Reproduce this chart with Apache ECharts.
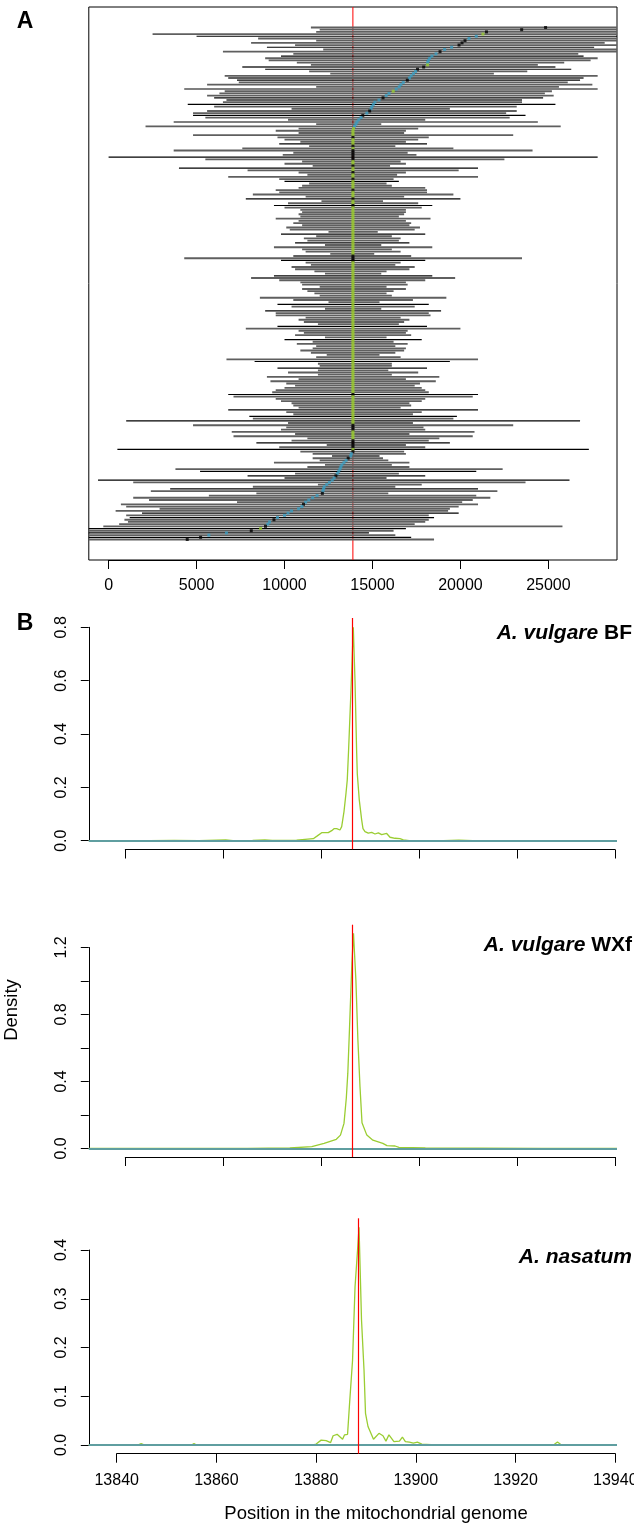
<!DOCTYPE html>
<html><head><meta charset="utf-8">
<script src="https://cdn.jsdelivr.net/npm/echarts@6/dist/echarts.min.js"></script>
<style>html,body{margin:0;padding:0;background:#fff}#c{width:634px;height:1526px}</style>
</head><body><div id="c"></div>
<script>
// ---------------- Panel A: reads (kb), one row per read, top to bottom ----------------
const readStartKb = [
 11.5,12.0,11.8,2.5,5.0,8.5,11.8,8.1,10.6,9.0,
 12.2,6.5,10.5,9.8,8.9,9.1,10.7,11.5,7.6,8.9,
 11.4,12.6,6.6,6.8,7.3,7.4,5.6,11.8,4.3,6.6,
 6.3,5.6,6.0,6.7,6.5,4.5,6.0,10.4,5.6,4.8,
 4.8,5.5,10.2,3.7,11.8,2.1,10.8,9.5,10.8,4.8,
 9.6,10.0,10.9,9.7,11.4,7.6,3.7,10.5,9.9,0.0,
 5.5,11.0,10.0,11.6,4.0,7.9,10.8,11.3,6.8,9.7,
 10.0,11.4,11.0,10.8,9.5,9.7,8.2,11.2,7.8,12.1,
 10.2,9.4,10.0,10.9,11.0,10.8,10.9,9.5,10.8,10.5,
 11.0,10.1,10.3,12.5,9.8,11.8,11.1,11.3,10.6,12.3,
 9.4,11.0,11.2,12.6,10.5,4.3,9.8,11.2,11.5,10.4,
 10.6,11.7,12.3,9.4,8.1,9.7,10.9,11.0,12.0,11.0,
 11.3,11.7,12.0,8.6,10.5,12.5,9.6,10.4,12.3,8.9,
 9.5,9.5,11.2,10.8,11.1,11.9,9.6,7.8,10.8,11.1,
 10.6,12.3,10.0,11.6,10.7,11.8,11.6,10.9,11.5,12.4,
 11.8,6.7,8.3,11.9,12.0,9.6,11.9,10.2,11.9,9.0,
 10.8,9.2,10.1,10.6,10.0,9.5,9.3,6.8,7.1,9.5,
 9.8,10.4,10.5,10.8,6.8,10.1,10.5,8.0,8.2,1.0,
 10.2,4.8,10.1,9.8,7.0,10.6,7.1,11.3,10.4,8.4,
 12.4,9.7,0.5,10.9,11.6,12.7,11.6,12.0,9.4,12.3,
 11.3,3.8,5.2,10.6,7.9,10.0,-0.6,1.4,11.9,8.2,
 3.5,2.4,8.4,5.7,1.4,2.3,7.3,0.7,1.0,2.9,
 0.4,1.9,1.0,1.2,0.9,1.1,0.6,-0.3,-1.5,-1.5,
 -1.5,-1.5,-1.5,-1.5
];
const readEndKb = [
 30.5,30.5,30.5,30.0,30.5,30.5,30.5,28.2,30.5,27.6,
 30.5,30.5,26.7,27.0,27.8,27.4,25.9,24.4,25.4,26.3,
 23.8,21.9,27.8,27.0,26.8,26.1,27.5,25.6,27.8,25.2,
 24.8,25.3,24.7,23.5,23.5,25.4,23.2,19.4,23.2,22.6,
 23.7,22.8,18.0,24.4,15.5,25.7,17.6,16.9,16.8,23.0,
 18.2,17.6,16.9,18.1,16.3,19.6,24.1,17.0,17.5,27.8,
 22.5,16.6,16.9,16.0,21.0,19.9,16.9,16.4,21.0,16.2,
 16.5,15.8,16.1,18.0,18.1,18.1,19.6,16.8,20.0,15.6,
 17.6,18.4,17.8,16.9,16.9,16.8,16.5,18.3,16.9,17.2,
 17.1,17.7,17.4,15.3,18.0,16.1,16.6,16.5,17.1,15.5,
 18.4,16.1,16.6,15.1,17.2,23.5,18.0,16.6,16.3,17.4,
 17.1,15.8,15.5,18.4,19.7,18.0,16.9,17.0,15.8,16.9,
 16.2,15.8,16.1,19.2,17.3,15.4,18.2,17.4,15.5,18.9,
 18.2,18.3,16.6,17.1,16.8,16.5,18.1,20.0,17.0,16.9,
 17.2,15.8,17.8,16.2,17.0,16.3,16.9,16.8,16.3,15.4,
 16.6,21.0,19.4,16.1,16.1,18.1,15.9,17.6,16.1,18.8,
 16.9,18.6,17.7,17.4,17.8,18.0,18.2,21.0,20.7,18.0,
 17.8,17.1,17.2,16.6,21.0,17.8,17.3,19.8,19.6,26.8,
 17.3,23.0,17.9,18.0,20.8,17.1,20.7,18.8,18.2,19.4,
 16.9,18.0,27.3,16.8,16.9,15.4,15.6,15.9,17.1,16.1,
 17.1,22.4,20.9,16.5,18.0,15.8,26.2,23.7,17.8,16.3,
 21.0,22.1,15.9,20.9,21.7,20.7,20.1,21.0,19.9,19.4,
 19.3,19.9,18.2,18.5,18.2,18.0,17.4,25.8,16.9,16.2,
 14.8,16.3,17.2,18.5
];
// position of the marked site on each read (kb)
const siteKb = [
 24.84,23.48,21.48,21.28,20.9,20.49,20.26,20.09,19.92,19.5,
 19.1,18.84,18.61,18.38,18.25,18.18,18.13,18.13,17.91,17.56,
 17.45,17.33,17.2,17.10,16.98,16.75,16.62,16.52,16.35,16.18,
 15.94,15.78,15.60,15.37,15.14,15.05,14.97,14.92,14.84,14.68,
 14.45,14.35,14.22,14.12,14.06,13.98,13.92,13.89,13.89,13.89,
 13.89,13.89,13.89,13.89,13.89,13.89,13.89,13.89,13.89,13.89,
 13.89,13.89,13.89,13.89,13.89,13.89,13.89,13.89,13.89,13.89,
 13.89,13.89,13.89,13.89,13.89,13.89,13.89,13.89,13.89,13.89,
 13.89,13.89,13.89,13.89,13.89,13.89,13.89,13.89,13.89,13.89,
 13.89,13.89,13.89,13.89,13.89,13.89,13.89,13.89,13.89,13.89,
 13.89,13.89,13.89,13.89,13.89,13.89,13.89,13.89,13.89,13.89,
 13.89,13.89,13.89,13.89,13.89,13.89,13.89,13.89,13.89,13.89,
 13.89,13.89,13.89,13.89,13.89,13.89,13.89,13.89,13.89,13.89,
 13.89,13.89,13.89,13.89,13.89,13.89,13.89,13.89,13.89,13.89,
 13.89,13.89,13.89,13.89,13.89,13.89,13.89,13.89,13.89,13.89,
 13.89,13.89,13.89,13.89,13.89,13.89,13.89,13.89,13.89,13.89,
 13.89,13.89,13.89,13.89,13.89,13.89,13.89,13.89,13.89,13.89,
 13.89,13.89,13.89,13.89,13.89,13.89,13.89,13.89,13.89,13.89,
 13.89,13.89,13.89,13.89,13.89,13.89,13.89,13.89,13.89,13.89,
 13.89,13.89,13.89,13.89,13.80,13.76,13.62,13.50,13.38,13.26,
 13.20,13.15,13.08,13.00,12.92,12.82,12.71,12.55,12.40,12.26,
 12.22,12.18,12.15,11.85,11.60,11.38,11.20,11.08,10.99,10.80,
 10.40,10.20,10.00,9.60,9.40,9.15,9.05,8.92,8.64,8.11,
 6.70,5.70,5.23,4.47
];
// g = grey read, k = black read
const lineTone =
 "ggggkggggk"+"gggkgggggk"+"ggggkgggkg"+"ggkggkgggg"+"kggkggggg"+
 "ggggkggggg"+"kggggkgggg"+"gkgggggggk"+"ggkggggggg"+"gggggkgggk"+
 "gggggggkgg"+"ggggkggggg"+"gggggggkgg"+"kggggggkgg"+"gggkgggggg"+
 "gggkggkggg"+"ggggggggkg"+"gggggkggkg"+"kggggggggg"+"kggkg"+
 "ggggggggkg"+"kgkgggkggg"+"gggggggkgk"+"ggggkgkgkg";
// k = black, c = blue, g = green site marks
const dotTone =
 "kkkgcckkkc"+"ckcccccgkk"+"cccckccccg"+"cckccccckc"+"kcccccggg"+
 "gkgggkgkkk"+"kkggkggkgg"+"kggggkgggk"+"ggkggggggg"+"gggggggggg"+
 "gggggkkkgg"+"gggggggggg"+"gggggggggg"+"gggggggggg"+"gggggggggg"+
 "gggggggggg"+"ggggggggkg"+"gggggggggg"+"ggkkkggggk"+"kkkgk"+
 "cckccccccc"+"kccccccckc"+"ccckcccccc"+"kcckgkcckk";
const panelATicks = [0, 25000, 5000];   // min, max, step
const cutSiteA = 13887;

// ---------------- Panel B: densities ----------------
const bfPos = [13832.55,13845,13850,13855,13860.5,13862,13866,13868.5,13870,13875,
 13878.4,13879.22,13880.11,13881.46,13882.16,13882.63,13883.18,13883.85,13884.2,13884.67,
 13885.08,13885.34,13885.61,13886.1,13886.57,13886.92,13887.26,13887.39,13887.79,13888.28,
 13888.55,13888.96,13889.63,13890.33,13891.0,13891.68,13892.37,13893.39,13894.07,13895.09,
 13896.11,13896.78,13898,13905,13908.1,13911,13920,13940.43];
const bfDensity = [0,0,0.001,0.0005,0.003,0.0005,0.001,0.003,0.001,0.002,
 0.0075,0.018,0.030,0.030,0.0375,0.045,0.045,0.04,0.0525,0.109,
 0.178,0.228,0.34,0.565,0.80,0.6,0.33,0.25,0.153,0.078,
 0.045,0.034,0.028,0.031,0.025,0.029,0.0225,0.027,0.0128,0.009,
 0.0075,0.003,0.0005,0,0.002,0,0,0];
const wxPos = [13832.55,13850,13855.3,13865,13873.6,13878.1,13880.6,13883.1,13883.95,13884.67,
 13885.14,13885.45,13885.81,13886.28,13886.61,13887.1,13887.51,13887.94,13888.35,13889.33,
 13890.57,13892.6,13893.45,13895.1,13895.9,13901.3,13912.4,13925,13940.43];
const wxDensity = [0,0,0.001,0.001,0.003,0.011,0.031,0.055,0.08,0.15,
 0.3,0.45,0.727,1.106,1.285,1.006,0.648,0.369,0.154,0.08,
 0.05,0.031,0.017,0.015,0.007,0.004,0.002,0,0];
const naPos = [13834.4,13844.2,13844.9,13845.6,13855.0,13855.5,13856.0,13859.0,13859.4,13859.8,
 13868.5,13868.9,13869.3,13874.3,13874.7,13875.1,13878.4,13878.8,13879.2,13880.0,
 13881.0,13882.0,13882.9,13883.4,13884.2,13884.6,13885.3,13885.7,13886.3,13886.7,
 13887.3,13887.8,13888.3,13888.6,13889.1,13889.6,13889.9,13890.4,13891.5,13892.6,
 13893.4,13894.0,13894.6,13895.6,13896.7,13897.3,13897.9,13898.7,13899.5,13900.3,
 13901.2,13904.0,13904.4,13904.8,13916.0,13916.4,13916.8,13927.6,13928.4,13929.2,13940.34];
const naDensity = [0,0,0.003,0,0,0.003,0,0,0.003,0,
 0,0.002,0,0,0.002,0,0,0.002,0,0.002,
 0.010,0.009,0.005,0.019,0.022,0.021,0.012,0.021,0.022,0.085,
 0.174,0.325,0.4,0.447,0.256,0.154,0.065,0.038,0.0117,0.024,
 0.019,0.008,0.021,0.007,0.008,0.016,0.007,0.006,0.004,0.006,
 0.002,0,0.004,0,0,0.003,0,0,0.006,0,0];
const cutSiteBF = 13886.4, cutSiteWX = 13886.4, cutSiteNa = 13888.5;
const positionTicks = [13840, 13940, 20];
const speciesTitles = [['A. vulgare','BF'],['A. vulgare','WXf'],['A. nasatum','']];

// ---------------- chart ----------------
const FONT = '"Liberation Sans", Arial, Helvetica, sans-serif';
const N = readStartKb.length;
const readRows = readStartKb.map((s, i) => [s * 1000, readEndKb[i] * 1000, i, lineTone[i] === 'k' ? 1 : 0]);
const dotColor = {k: '#000000', c: '#3a9dc2', g: '#9acd32'};
const siteDots = siteKb.map((v, i) => ({value: [v * 1000, i], itemStyle: {color: dotColor[dotTone[i]] || dotColor.g}}));
const pairs = (xs, ys) => xs.map((x, i) => [x, ys[i]]);

const lab = {fontFamily: FONT, fontSize: 16, color: '#000'};
const blackLine = {show: true, onZero: false, lineStyle: {color: '#000', width: 1}};
function g(left, top, width, height, extra) {
  return Object.assign({left, top, width, height, show: false, containLabel: false, outerBoundsMode: 'none'}, extra || {});
}
function hiddenX(gi, min, max) { return {type: 'value', gridIndex: gi, min, max, show: false, splitLine: {show: false}}; }
function hiddenY(gi, min, max, inverse) { return {type: 'value', gridIndex: gi, min, max, show: false, inverse: !!inverse, splitLine: {show: false}}; }
function visX(gi, t, showLabels, margin, tickLen) {
  return {type: 'value', gridIndex: gi, min: t[0], max: t[1], interval: t[2], position: 'bottom',
    axisLine: blackLine, axisTick: {show: true, length: tickLen, lineStyle: {color: '#000', width: 1}},
    axisLabel: {show: showLabels, margin: margin, formatter: v => String(v), showMinLabel: true, showMaxLabel: true, hideOverlap: false, ...lab},
    splitLine: {show: false}};
}
function visY(gi, min, max, interval, fmt) {
  return {type: 'value', gridIndex: gi, min, max, interval, position: 'left',
    axisLine: blackLine, axisTick: {show: true, length: 8, lineStyle: {color: '#000', width: 1}},
    axisLabel: {rotate: 90, margin: 19, formatter: fmt, showMinLabel: true, showMaxLabel: true, hideOverlap: false, ...lab},
    splitLine: {show: false}};
}
const f1 = v => v.toFixed(1);
const fEven = v => (Math.round(v * 10) % 4 === 0 ? v.toFixed(1) : '');

const L = 88.8, W = 528.2;
const grids = [
  g(L, 7, W, 553, {show: true, borderColor: '#000', borderWidth: 1, backgroundColor: 'transparent'}), // 0 A data
  g(108.6, 7, 439.8, 553),            // 1 A x axis
  g(L, 618, W, 231.2),                // 2 BF data
  g(L, 627.3, W, 213.4),              // 3 BF y axis
  g(125.3, 618, 489.6, 231.5),        // 4 BF x axis
  g(L, 924.7, W, 232.3),              // 5 WX data
  g(L, 947.5, W, 201),                // 6 WX y axis
  g(125.3, 924.7, 489.6, 232.3),      // 7 WX x axis
  g(L, 1218.3, W, 235.4),             // 8 Na data
  g(L, 1250, W, 195),                 // 9 Na y axis
  g(116.7, 1218.3, 498.6, 235.4)      // 10 Na x axis
];
const xAxes = [
  hiddenX(0, -1125, 28900),
  visX(1, panelATicks, true, 18, 9),
  hiddenX(2, 13832.55, 13940.43),
  hiddenX(3, 0, 1),
  visX(4, positionTicks, false, 19, 9),
  hiddenX(5, 13832.55, 13940.43),
  hiddenX(6, 0, 1),
  visX(7, positionTicks, false, 19, 9),
  hiddenX(8, 13834.4, 13940.34),
  hiddenX(9, 0, 1),
  visX(10, positionTicks, true, 19, 9)
];
const yAxes = [
  hiddenY(0, -0.04 * (N - 1), 1.04 * (N - 1), true),
  hiddenY(1, 0, 1),
  hiddenY(2, -0.032, 0.835),
  visY(3, 0, 0.8, 0.2, f1),
  hiddenY(4, 0, 1),
  hiddenY(5, -0.0507, 1.3366),
  visY(6, 0, 1.2, 0.2, fEven),
  hiddenY(7, 0, 1),
  hiddenY(8, -0.01785, 0.4655),
  visY(9, 0, 0.4, 0.1, f1),
  hiddenY(10, 0, 1)
];

function densitySeries(gi, pos, dens, cut) {
  return {type: 'line', xAxisIndex: gi, yAxisIndex: gi, data: pairs(pos, dens), showSymbol: false, symbol: 'none',
    smooth: false, clip: true, silent: true,
    lineStyle: {color: '#9acd32', width: 1.3},
    markLine: {silent: true, symbol: 'none', label: {show: false}, animation: false,
      lineStyle: {color: '#ff0000', width: 1.2, type: 'solid'},
      emphasis: {disabled: true},
      data: [
        {yAxis: 0, lineStyle: {color: '#5f9ea0', width: 2, type: 'solid'}},
        {xAxis: cut, lineStyle: {color: '#ff0000', width: 1.2, type: 'solid'}}
      ]}};
}

const series = [
  { // cut-site line of panel A, drawn beneath the reads
    type: 'custom', xAxisIndex: 0, yAxisIndex: 0, silent: true,
    data: [[cutSiteA, 0]], encode: {x: 0, y: 1},
    renderItem(params, api) {
      const cs = params.coordSys;
      const p = api.coord([api.value(0), 0]);
      return {type: 'line', shape: {x1: p[0], y1: cs.y, x2: p[0], y2: cs.y + cs.height},
        style: {stroke: '#ff0000', lineWidth: 1}};
    }
  },
  { // reads
    type: 'custom', xAxisIndex: 0, yAxisIndex: 0, silent: true,
    data: readRows, encode: {x: [0, 1], y: 2},
    renderItem(params, api) {
      const cs = params.coordSys;
      const a = api.coord([api.value(0), api.value(2)]);
      const b = api.coord([api.value(1), api.value(2)]);
      const x1 = Math.max(a[0], cs.x), x2 = Math.min(b[0], cs.x + cs.width);
      if (!(x2 > x1)) return null;
      const dark = api.value(3) === 1;
      return {type: 'line', shape: {x1: x1, y1: a[1], x2: x2, y2: a[1]},
        style: {stroke: dark ? '#000000' : '#5f5f5f', lineWidth: dark ? 1.2 : 1.85}};
    }
  },
  { // marked site on each read
    type: 'scatter', xAxisIndex: 0, yAxisIndex: 0, silent: true,
    symbol: 'rect', symbolSize: [3, 3], data: siteDots
  },
  densitySeries(2, bfPos, bfDensity, cutSiteBF),
  densitySeries(5, wxPos, wxDensity, cutSiteWX),
  densitySeries(8, naPos, naDensity, cutSiteNa)
];

function titleText(y, parts) {
  const txt = parts[1] ? '{i|' + parts[0] + '} {b|' + parts[1] + '}' : '{i|' + parts[0] + '}';
  return {type: 'text', x: 632, y: y, silent: true,
    style: {text: txt, align: 'right', verticalAlign: 'middle', fill: '#000',
      fontFamily: FONT, fontSize: 21, fontWeight: 'bold',
      rich: {i: {fontFamily: FONT, fontSize: 21, fontWeight: 'bold', fontStyle: 'italic', fill: '#000'},
             b: {fontFamily: FONT, fontSize: 21, fontWeight: 'bold', fill: '#000'}}}};
}

const chart = echarts.init(document.getElementById('c'), null, {renderer: 'canvas'});
chart.setOption({
  animation: false,
  backgroundColor: '#ffffff',
  grid: grids, xAxis: xAxes, yAxis: yAxes, series: series,
  graphic: [
    {type: 'text', x: 25, y: 22, silent: true, style: {text: 'A', fontFamily: FONT, fontSize: 23, fontWeight: 'bold', fill: '#000', align: 'center', verticalAlign: 'middle'}},
    {type: 'text', x: 25, y: 624, silent: true, style: {text: 'B', fontFamily: FONT, fontSize: 23, fontWeight: 'bold', fill: '#000', align: 'center', verticalAlign: 'middle'}},
    {type: 'text', x: 12, y: 1010, rotation: Math.PI / 2, silent: true, style: {text: 'Density', fontFamily: FONT, fontSize: 18.5, fill: '#000', align: 'center', verticalAlign: 'middle'}},
    {type: 'text', x: 376, y: 1514, silent: true, style: {text: 'Position in the mitochondrial genome', fontFamily: FONT, fontSize: 18.5, fill: '#000', align: 'center', verticalAlign: 'middle'}},
    titleText(633, speciesTitles[0]),
    titleText(945, speciesTitles[1]),
    titleText(1257, speciesTitles[2])
  ]
});
</script></body></html>
